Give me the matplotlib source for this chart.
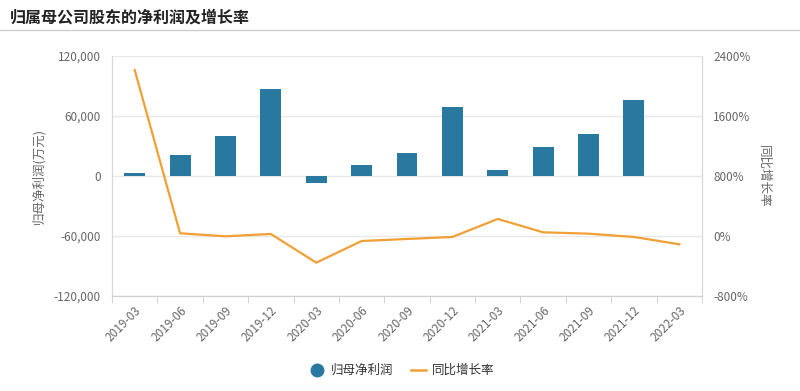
import matplotlib.pyplot as plt
import matplotlib.ticker as mticker
import numpy as np

plt.rcParams['font.family'] = ['Noto Sans CJK SC', 'DejaVu Sans']

periods = ['2019-03', '2019-06', '2019-09', '2019-12', '2020-03', '2020-06',
           '2020-09', '2020-12', '2021-03', '2021-06', '2021-09', '2021-12',
           '2022-03']
# net profit, 10k yuan (no bar for 2022-03)
net_profit = [2500, 21000, 40300, 86700, -6700, 11300,
              22700, 69300, 6300, 28700, 42000, 76000, np.nan]
# year-on-year growth, %
yoy_growth = [2213, 36, -4, 27, -356, -67,
              -40, -13, 227, 49, 31, -13, -111]

bar_color = '#2878a0'
line_color = '#f0a035'
grid_color = '#e8e8e8'
text_color = '#666666'

fig = plt.figure(figsize=(8, 3.91), dpi=100)
ax = fig.add_axes([0.14, 0.243, 0.7375, 0.6138])
ax2 = ax.twinx()

x = np.arange(len(periods))
ax.bar(x, net_profit, width=0.46, color=bar_color, zorder=2, label='归母净利润')
ax2.plot(x, yoy_growth, color=line_color, lw=1.6, zorder=3, label='同比增长率')

ax.set_xlim(-0.5, len(periods) - 0.5)
ax.set_ylim(-120000, 120000)
ax.set_yticks([-120000, -60000, 0, 60000, 120000])
ax.yaxis.set_major_formatter(mticker.FuncFormatter(lambda v, p: '{:,.0f}'.format(v)))
ax2.set_ylim(-800, 2400)
ax2.set_yticks([-800, 0, 800, 1600, 2400])
ax2.yaxis.set_major_formatter(mticker.FuncFormatter(lambda v, p: '{:.0f}%'.format(v)))

ax.set_xticks(x)
ax.set_xticklabels(periods, rotation=45, ha='right', rotation_mode='anchor',
                   fontsize=8.5, color=text_color)
ax.set_xticks(np.arange(-0.5, len(periods)), minor=True)
ax.tick_params(axis='x', which='major', length=0, pad=6)
ax.tick_params(axis='x', which='minor', length=5, color='#cccccc')
ax.tick_params(axis='y', length=0, labelsize=8.5, labelcolor=text_color, pad=8)
ax2.tick_params(axis='y', length=0, labelsize=8.5, labelcolor=text_color, pad=8)

ax.grid(axis='y', color=grid_color, lw=1, zorder=0)
ax.set_axisbelow(True)
for a in (ax, ax2):
    a.spines['top'].set_visible(False)
    a.spines['left'].set_color('#d8d8d8')
    a.spines['right'].set_color('#d8d8d8')
    a.spines['bottom'].set_color('#d0d0d0')

ax.set_ylabel('归母净利润(万元)', fontsize=9, color=text_color, labelpad=6)
ax2.set_ylabel('同比增长率', fontsize=9, color=text_color, rotation=270, labelpad=14)

fig.text(0.012, 0.955, '归属母公司股东的净利润及增长率', fontsize=11.5,
         fontweight='bold', color='#222222', va='center')
fig.add_artist(plt.Line2D([0, 1], [0.922, 0.922], color='#d0d0d0', lw=1))

h1, l1 = ax.get_legend_handles_labels()
h2, l2 = ax2.get_legend_handles_labels()
handles = [plt.Line2D([], [], marker='o', ls='none', color=bar_color, markersize=9),
           plt.Line2D([], [], color=line_color, lw=1.8)]
fig.legend(handles, l1 + l2, loc='center', bbox_to_anchor=(0.503, 0.052), ncol=2,
           frameon=False, fontsize=9, handlelength=1.2, handletextpad=0.5,
           columnspacing=1.4, labelcolor='#333333')

fig.savefig('out.png', dpi=100)
